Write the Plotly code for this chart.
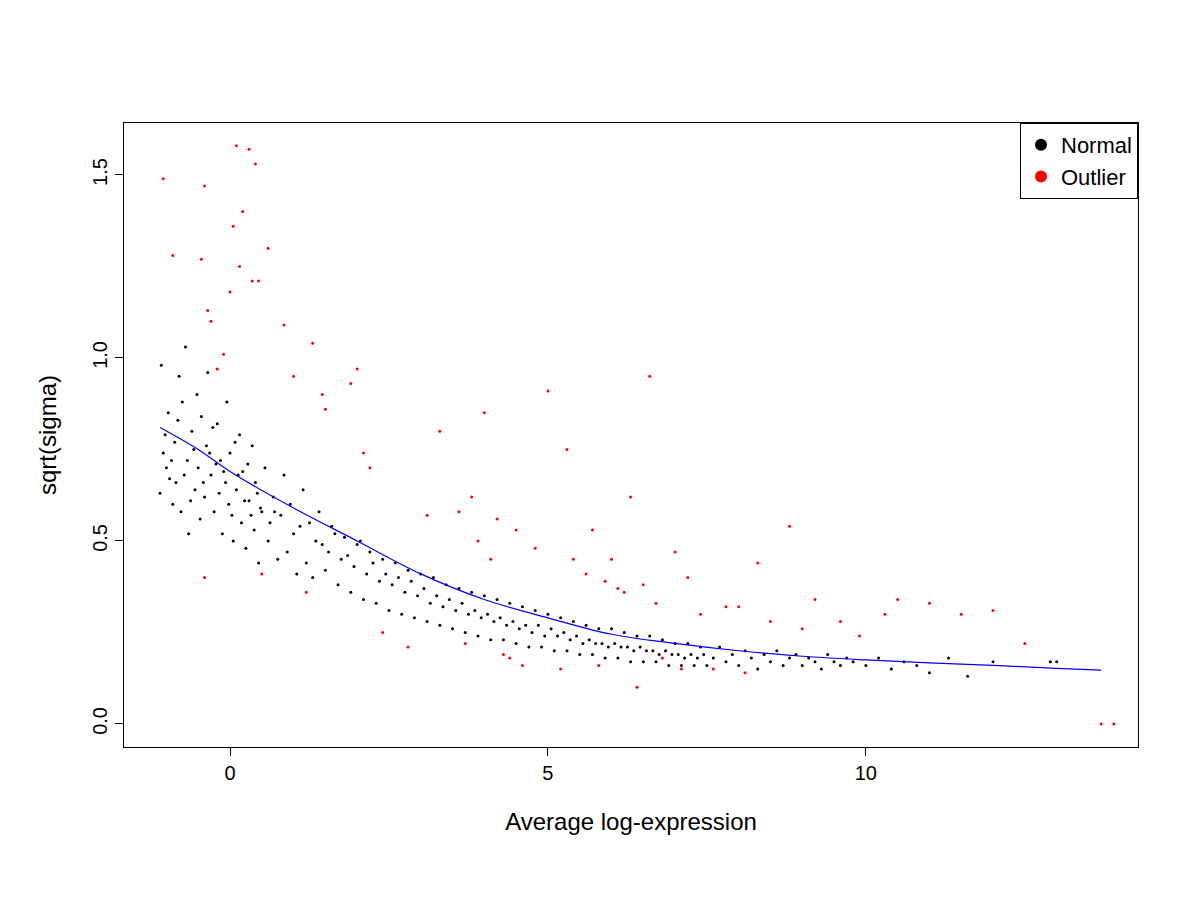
import plotly.graph_objects as go

# (x, y), grouped by x
normal_pts = [
 (-1.1,0.63),(-1.08,0.98),(-1.05,0.74),(-1.02,0.79),(-1.0,0.70),(-0.97,0.85),(-0.95,0.67),(-0.92,0.72),(-0.9,0.60),(-0.87,0.77),
 (-0.85,0.66),(-0.82,0.83),(-0.8,0.95),(-0.77,0.58),(-0.75,0.88),(-0.72,0.68),(-0.7,1.03),(-0.67,0.72),(-0.65,0.52),(-0.62,0.61),
 (-0.6,0.80),(-0.57,0.75),(-0.55,0.64),(-0.52,0.90),(-0.5,0.70),(-0.47,0.56),(-0.45,0.84),(-0.42,0.66),(-0.4,0.62),(-0.37,0.76),
 (-0.35,0.96),(-0.32,0.74),(-0.3,0.68),(-0.27,0.81),(-0.25,0.58),(-0.22,0.71),(-0.2,0.82),(-0.17,0.63),(-0.15,0.72),(-0.12,0.52),
 (-0.1,0.69),(-0.07,0.66),(-0.05,0.88),(-0.02,0.60),(0.0,0.74),(0.03,0.57),(0.05,0.50),(0.08,0.77),(0.1,0.64),(0.13,0.68),
 (0.15,0.79),(0.18,0.55),(0.2,0.69),(0.23,0.61),(0.25,0.48),(0.28,0.71),(0.3,0.61),(0.33,0.57),(0.35,0.76),(0.38,0.53),
 (0.4,0.66),(0.43,0.63),(0.45,0.44),(0.48,0.59),(0.5,0.58),(0.55,0.70),(0.6,0.50),(0.63,0.55),(0.68,0.62),(0.7,0.58),
 (0.75,0.45),(0.8,0.57),(0.85,0.68),(0.9,0.47),(0.95,0.60),(1.0,0.52),(1.05,0.41),(1.1,0.54),(1.15,0.64),(1.2,0.44),
 (1.25,0.55),(1.3,0.40),(1.35,0.50),(1.4,0.58),(1.45,0.49),(1.5,0.42),(1.55,0.47),(1.6,0.54),(1.65,0.52),(1.7,0.38),
 (1.75,0.45),(1.8,0.51),(1.85,0.46),(1.9,0.36),(1.95,0.43),(2.0,0.49),(2.05,0.50),(2.1,0.34),(2.15,0.41),(2.2,0.47),
 (2.25,0.44),(2.3,0.33),(2.35,0.39),(2.4,0.45),(2.45,0.41),(2.5,0.31),(2.55,0.38),(2.6,0.44),(2.65,0.40),(2.7,0.30),
 (2.75,0.36),(2.8,0.42),(2.85,0.39),(2.9,0.29),(2.95,0.35),(3.0,0.41),(3.05,0.37),(3.1,0.28),(3.15,0.33),(3.2,0.40),
 (3.25,0.35),(3.3,0.27),(3.35,0.32),(3.4,0.38),(3.45,0.34),(3.5,0.26),(3.55,0.31),(3.6,0.37),(3.65,0.33),(3.7,0.25),
 (3.75,0.30),(3.8,0.36),(3.85,0.31),(3.9,0.24),(3.95,0.29),(4.0,0.35),(4.05,0.30),(4.1,0.23),(4.15,0.28),(4.2,0.34),
 (4.25,0.29),(4.3,0.23),(4.35,0.27),(4.4,0.33),(4.45,0.28),(4.5,0.22),(4.55,0.26),(4.6,0.32),(4.65,0.27),(4.7,0.21),
 (4.75,0.25),(4.8,0.31),(4.85,0.27),(4.9,0.21),(4.95,0.24),(5.0,0.30),(5.05,0.26),(5.1,0.20),(5.15,0.24),(5.2,0.29),
 (5.25,0.25),(5.3,0.20),(5.35,0.23),(5.4,0.28),(5.45,0.24),(5.5,0.19),(5.55,0.22),(5.6,0.27),(5.65,0.23),(5.7,0.19),
 (5.75,0.22),(5.8,0.26),(5.85,0.22),(5.9,0.18),(5.95,0.21),(6.0,0.26),(6.05,0.22),(6.1,0.18),(6.15,0.21),(6.2,0.25),
 (6.25,0.21),(6.3,0.17),(6.35,0.20),(6.4,0.24),(6.45,0.21),(6.5,0.17),(6.55,0.20),(6.6,0.24),(6.65,0.20),(6.7,0.17),
 (6.75,0.19),(6.8,0.23),(6.85,0.20),(6.9,0.16),(6.95,0.19),(7.0,0.22),(7.05,0.19),(7.1,0.16),(7.15,0.18),(7.2,0.22),
 (7.25,0.19),(7.3,0.16),(7.35,0.18),(7.4,0.21),(7.45,0.19),(7.5,0.16),(7.6,0.18),(7.7,0.21),(7.8,0.17),(7.9,0.19),
 (8.0,0.16),(8.1,0.20),(8.2,0.18),(8.3,0.15),(8.4,0.19),(8.5,0.17),(8.6,0.20),(8.7,0.16),(8.8,0.18),(8.9,0.19),
 (9.0,0.16),(9.1,0.18),(9.2,0.17),(9.3,0.15),(9.4,0.19),(9.5,0.17),(9.6,0.16),(9.7,0.18),(9.8,0.17),(10.0,0.16),
 (10.2,0.18),(10.4,0.15),(10.6,0.17),(10.8,0.16),(11.0,0.14),(11.3,0.18),(11.6,0.13),(12.0,0.17),(12.9,0.17),(13.0,0.17),
]
normal_x = [p[0] for p in normal_pts]
normal_y = [p[1] for p in normal_pts]

outlier_pts = [
 (-1.05,1.49),(-0.9,1.28),(-0.45,1.27),(-0.4,1.47),(-0.35,1.13),(-0.3,1.10),(-0.2,0.97),(-0.1,1.01),(0.0,1.18),(0.05,1.36),
 (0.1,1.58),(0.15,1.25),(0.2,1.40),(0.3,1.57),(0.35,1.21),(0.4,1.53),(0.45,1.21),(0.6,1.30),(0.85,1.09),(1.0,0.95),
 (1.3,1.04),(1.45,0.90),(1.5,0.86),(1.9,0.93),(2.0,0.97),(2.2,0.70),(3.3,0.80),(4.0,0.85),(4.2,0.56),(3.6,0.58),
 (3.8,0.62),(4.5,0.53),(5.0,0.91),(4.8,0.48),(5.4,0.45),(6.3,0.62),(6.6,0.95),(6.0,0.45),(6.5,0.38),(7.0,0.47),
 (7.4,0.30),(8.0,0.32),(8.3,0.44),(8.8,0.54),(9.2,0.34),(9.6,0.28),(10.5,0.34),(11.0,0.33),(11.5,0.30),(12.0,0.31),
 (12.5,0.22),(13.7,0.0),(13.9,0.0),(-0.4,0.40),(0.5,0.41),(1.2,0.36),(2.4,0.25),(2.8,0.21),(3.7,0.22),(4.3,0.19),
 (4.6,0.16),(5.2,0.15),(5.6,0.41),(5.9,0.39),(6.2,0.36),(6.4,0.10),(6.8,0.18),(7.2,0.40),(7.6,0.15),(8.5,0.28),
 (9.0,0.26),(9.9,0.24),(10.3,0.30),(3.9,0.50),(4.1,0.45),(5.3,0.75),(5.7,0.53),(6.1,0.37),(6.7,0.33),(7.1,0.15),
 (7.8,0.32),(8.1,0.14),(4.4,0.18),(5.8,0.16),(2.1,0.74),(3.1,0.57),
]
outlier_x = [p[0] for p in outlier_pts]
outlier_y = [p[1] for p in outlier_pts]

trend_x = [-1.1,-0.5,0,1,2,3,4,5,6,7,8,9,10,11,12,13,13.7]
trend_y = [0.81,0.75,0.69,0.59,0.50,0.41,0.34,0.29,0.245,0.22,0.20,0.185,0.175,0.167,0.16,0.152,0.147]

fig = go.Figure()
fig.add_trace(go.Scatter(x=normal_x, y=normal_y, mode="markers", name="Normal",
                         marker=dict(color="black", size=3)))
fig.add_trace(go.Scatter(x=outlier_x, y=outlier_y, mode="markers", name="Outlier",
                         marker=dict(color="red", size=3)))
fig.add_trace(go.Scatter(x=trend_x, y=trend_y, mode="lines", showlegend=False,
                         line=dict(color="blue", width=1.2, shape="spline")))

ax = dict(showgrid=False, zeroline=False, showline=True, linecolor="black", mirror=True,
          ticks="outside", ticklen=8, tickcolor="black", linewidth=1, automargin=False)
fig.update_layout(
    width=1200, height=900, plot_bgcolor="white", paper_bgcolor="white",
    margin=dict(l=116, r=70, t=115, b=161, autoexpand=False),
    font=dict(family="Liberation Sans, Arial", size=20, color="black"),
    xaxis=dict(ax, range=[-1.667, 14.28], tickvals=[0, 5, 10],
               title=dict(text="Average log-expression", standoff=30)),
    yaxis=dict(ax, range=[-0.063, 1.642], tickvals=[0, 0.5, 1.0, 1.5],
               ticktext=["0.0", "0.5", "1.0", "1.5"], tickangle=-90,
               title=dict(text="sqrt(sigma)", standoff=25)),
    legend=dict(x=1, y=1, xanchor="right", yanchor="top", bordercolor="black",
                borderwidth=1, bgcolor="white", itemsizing="constant",
                font=dict(size=22), tracegroupgap=4),
)
fig.write_html("out.html")
